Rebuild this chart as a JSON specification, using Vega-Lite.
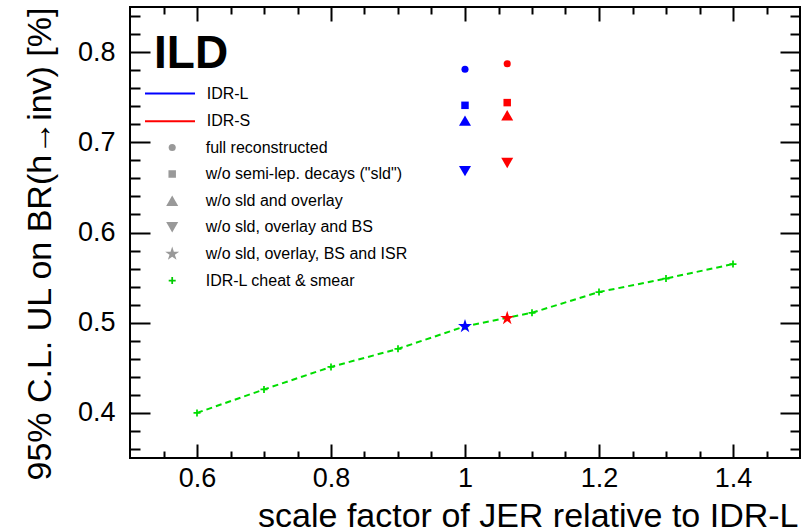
{
  "$schema": "https://vega.github.io/schema/vega-lite/v6.json",
  "width": 670,
  "height": 451,
  "autosize": "none",
  "padding": {"left": 130, "top": 7, "right": 6, "bottom": 74},
  "background": "white",
  "config": {
    "font": "Liberation Sans",
    "view": {"stroke": "black", "strokeWidth": 2},
    "legend": {
      "labelFont": "Liberation Sans", "labelFontSize": 16, "labelColor": "black", "labelLimit": 400, "padding": 0,
      "symbolBaseFillColor": {"expr": "datum.value === 'IDR-L cheat & smear' ? '#00cc00' : '#999999'"}
    },
    "axis": {"domain": false, "grid": false, "tickColor": "black", "tickWidth": 2, "labelColor": "black", "titleColor": "black", "labelFont": "Liberation Sans", "titleFont": "Liberation Sans", "labelFlush": false, "labelOverlap": false}
  },
  "data": {
    "values": [
      {"jer": 0.6, "ul": 0.400, "det": "cheat", "sel": "IDR-L cheat & smear"},
      {"jer": 0.7, "ul": 0.426, "det": "cheat", "sel": "IDR-L cheat & smear"},
      {"jer": 0.8, "ul": 0.451, "det": "cheat", "sel": "IDR-L cheat & smear"},
      {"jer": 0.9, "ul": 0.471, "det": "cheat", "sel": "IDR-L cheat & smear"},
      {"jer": 1.0, "ul": 0.496, "det": "cheat", "sel": "IDR-L cheat & smear"},
      {"jer": 1.1, "ul": 0.511, "det": "cheat", "sel": "IDR-L cheat & smear"},
      {"jer": 1.2, "ul": 0.534, "det": "cheat", "sel": "IDR-L cheat & smear"},
      {"jer": 1.3, "ul": 0.549, "det": "cheat", "sel": "IDR-L cheat & smear"},
      {"jer": 1.4, "ul": 0.565, "det": "cheat", "sel": "IDR-L cheat & smear"},
      {"jer": 1.0, "ul": 0.781, "det": "IDR-L", "sel": "full reconstructed"},
      {"jer": 1.0, "ul": 0.741, "det": "IDR-L", "sel": "w/o semi-lep. decays (\"sld\")"},
      {"jer": 1.0, "ul": 0.724, "det": "IDR-L", "sel": "w/o sld and overlay"},
      {"jer": 1.0, "ul": 0.668, "det": "IDR-L", "sel": "w/o sld, overlay and BS"},
      {"jer": 1.0, "ul": 0.496, "det": "IDR-L", "sel": "w/o sld, overlay, BS and ISR"},
      {"jer": 1.063, "ul": 0.787, "det": "IDR-S", "sel": "full reconstructed"},
      {"jer": 1.063, "ul": 0.744, "det": "IDR-S", "sel": "w/o semi-lep. decays (\"sld\")"},
      {"jer": 1.063, "ul": 0.730, "det": "IDR-S", "sel": "w/o sld and overlay"},
      {"jer": 1.063, "ul": 0.677, "det": "IDR-S", "sel": "w/o sld, overlay and BS"},
      {"jer": 1.063, "ul": 0.505, "det": "IDR-S", "sel": "w/o sld, overlay, BS and ISR"}
    ]
  },
  "layer": [
    {
      "transform": [{"filter": "datum.det === 'cheat'"}],
      "mark": {"type": "line", "color": "#00dd00", "strokeWidth": 2, "strokeDash": [6, 4]},
      "encoding": {
        "x": {
          "field": "jer", "type": "quantitative",
          "scale": {"domain": [0.5, 1.5], "nice": false, "zero": false},
          "axis": {
            "orient": "bottom",
            "values": [0.55, 0.6, 0.65, 0.7, 0.75, 0.8, 0.85, 0.9, 0.95, 1.0, 1.05, 1.1, 1.15, 1.2, 1.25, 1.3, 1.35, 1.4, 1.45],
            "tickSize": {"condition": {"test": "abs(datum.value*5 - round(datum.value*5)) < 1e-6", "value": -14}, "value": -7},
            "labelExpr": "abs(datum.value*5 - round(datum.value*5)) < 1e-6 ? format(datum.value, '~g') : ''",
            "labelFontSize": 27,
            "labelPadding": 21,
            "title": "scale factor of JER relative to IDR-L",
            "titleFontSize": 34,
            "titleFontWeight": "normal",
            "titleAlign": "right",
            "titleAnchor": "end",
            "titleBaseline": "alphabetic",
            "titleX": 668,
            "titleY": 68
          }
        },
        "y": {
          "field": "ul", "type": "quantitative",
          "scale": {"domain": [0.35, 0.85], "nice": false, "zero": false},
          "axis": {
            "orient": "left",
            "values": [0.36, 0.38, 0.4, 0.42, 0.44, 0.46, 0.48, 0.5, 0.52, 0.54, 0.56, 0.58, 0.6, 0.62, 0.64, 0.66, 0.68, 0.7, 0.72, 0.74, 0.76, 0.78, 0.8, 0.82, 0.84],
            "tickSize": {"condition": {"test": "abs(datum.value*10 - round(datum.value*10)) < 1e-6", "value": -20}, "value": -10},
            "labelExpr": "abs(datum.value*10 - round(datum.value*10)) < 1e-6 ? format(datum.value, '.1f') : ''",
            "labelFontSize": 27,
            "labelPadding": 35,
            "title": "95% C.L. UL on BR(h→inv) [%]",
            "titleFontSize": 34,
            "titleFontWeight": "normal",
            "titleAngle": -90,
            "titleAlign": "right",
            "titleAnchor": "end",
            "titleBaseline": "alphabetic",
            "titleX": -80,
            "titleY": 0
          }
        }
      }
    },
    {
      "mark": {"type": "point", "filled": true, "opacity": 1, "strokeWidth": 0},
      "encoding": {
        "x": {
          "field": "jer", "type": "quantitative",
          "scale": {"domain": [0.5, 1.5], "nice": false, "zero": false},
          "axis": {
            "orient": "top",
            "values": [0.55, 0.6, 0.65, 0.7, 0.75, 0.8, 0.85, 0.9, 0.95, 1.0, 1.05, 1.1, 1.15, 1.2, 1.25, 1.3, 1.35, 1.4, 1.45],
            "tickSize": {"condition": {"test": "abs(datum.value*5 - round(datum.value*5)) < 1e-6", "value": -14}, "value": -7},
            "labels": false,
            "title": null
          }
        },
        "y": {
          "field": "ul", "type": "quantitative",
          "scale": {"domain": [0.35, 0.85], "nice": false, "zero": false},
          "axis": {
            "orient": "right",
            "values": [0.36, 0.38, 0.4, 0.42, 0.44, 0.46, 0.48, 0.5, 0.52, 0.54, 0.56, 0.58, 0.6, 0.62, 0.64, 0.66, 0.68, 0.7, 0.72, 0.74, 0.76, 0.78, 0.8, 0.82, 0.84],
            "tickSize": {"condition": {"test": "abs(datum.value*10 - round(datum.value*10)) < 1e-6", "value": -20}, "value": -10},
            "labels": false,
            "title": null
          }
        },
        "color": {
          "field": "det", "type": "nominal",
          "scale": {"domain": ["IDR-L", "IDR-S", "cheat"], "range": ["#0000ff", "#ff0000", "#00dd00"]},
          "legend": {
            "orient": "none",
            "legendX": 24,
            "legendY": 24.6,
            "values": ["IDR-L", "IDR-S"],
            "title": "ILD",
            "titleFont": "Liberation Sans",
            "titleFontSize": 46,
            "titleFontWeight": "bold",
            "titleColor": "black",
            "titlePadding": 8,
            "symbolType": "M-5,0H5",
            "symbolSize": 100,
            "symbolStrokeWidth": 2,
            "symbolOffset": 8,
            "symbolFillColor": "transparent",
            "symbolStrokeColor": {"expr": "datum.value === 'IDR-L' ? '#0000ff' : '#ff0000'"},
            "labelOffset": 28.7,
            "rowPadding": 11.7
          }
        },
        "shape": {
          "field": "sel", "type": "nominal",
          "scale": {
            "domain": ["full reconstructed", "w/o semi-lep. decays (\"sld\")", "w/o sld and overlay", "w/o sld, overlay and BS", "w/o sld, overlay, BS and ISR", "IDR-L cheat & smear"],
            "range": ["circle", "square", "triangle-up", "triangle-down", "M0,-1L0.2245,-0.309L0.951,-0.309L0.363,0.118L0.588,0.809L0,0.382L-0.588,0.809L-0.363,0.118L-0.951,-0.309L-0.2245,-0.309Z", "M-1,-0.25H-0.25V-1H0.25V-0.25H1V0.25H0.25V1H-0.25V0.25H-1Z"]
          },
          "legend": {
            "orient": "none",
            "legendX": 33.7,
            "legendY": 132.5,
            "title": null,
            "labelOffset": 25,
            "clipHeight": 16,
            "rowPadding": 10.6,
            "symbolStrokeColor": "transparent",
            "symbolOpacity": 1
          }
        },
        "size": {
          "field": "sel", "type": "nominal",
          "scale": {
            "type": "ordinal",
            "domain": ["full reconstructed", "w/o semi-lep. decays (\"sld\")", "w/o sld and overlay", "w/o sld, overlay and BS", "w/o sld, overlay, BS and ISR", "IDR-L cheat & smear"],
            "range": [50, 56, 144, 144, 216, 49]
          }
        }
      }
    }
  ],
  "resolve": {"axis": {"x": "independent", "y": "independent"}}
}
